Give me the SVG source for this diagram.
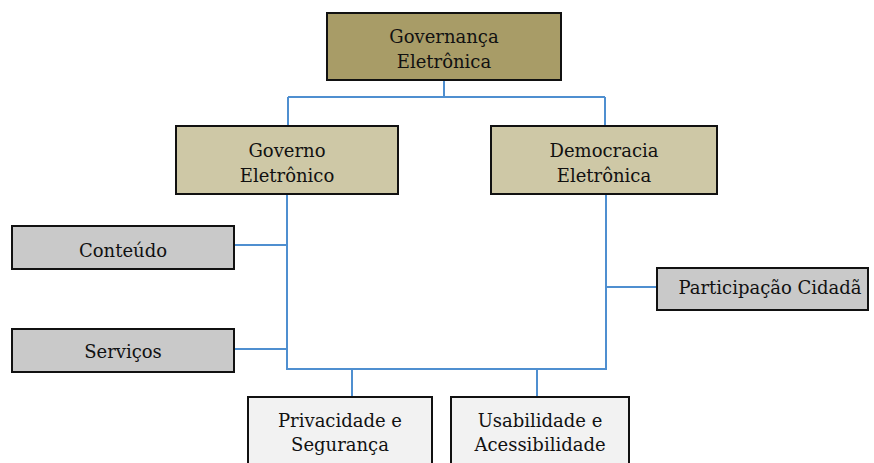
<svg xmlns="http://www.w3.org/2000/svg" width="874" height="463" viewBox="0 0 874 463">
<style>
.box{stroke:#111;stroke-width:2}
.l1{fill:#A89C67}
.l2{fill:#CEC8A6}
.g{fill:#C9C9C9}
.w{fill:#F2F2F2}
text{font-family:"DejaVu Serif","Liberation Serif",serif;font-size:18px;fill:#111;text-anchor:middle}
.c{fill:none;stroke:#4F8FD0;stroke-width:2}
</style>
<rect width="874" height="463" fill="#fff"/>
<g id="connectors">
<path class="c" d="M444 81V97M288 97H605M288 97V126M605 97V126"/>
<path class="c" d="M287 194V369H606V194"/>
<path class="c" d="M234 245H287M234 349H287M606 287H657"/>
<path class="c" d="M352 369V397M537 369V397"/>
</g>
<g id="governanca"><rect class="box l1" x="327" y="13" width="234" height="67"/><text x="444" y="43">Governança</text><text x="444" y="68">Eletrônica</text></g>
<g id="governo"><rect class="box l2" x="176" y="126" width="222" height="68"/><text x="287" y="157">Governo</text><text x="287" y="182">Eletrônico</text></g>
<g id="democracia"><rect class="box l2" x="491" y="126" width="226" height="68"/><text x="604" y="157">Democracia</text><text x="604" y="182">Eletrônica</text></g>
<g id="conteudo"><rect class="box g" x="12" y="226" width="222" height="43"/><text x="123" y="257">Conteúdo</text></g>
<g id="servicos"><rect class="box g" x="12" y="329" width="222" height="43"/><text x="123" y="358">Serviços</text></g>
<g id="participacao"><rect class="box g" x="657" y="268" width="211" height="42"/><text x="770" y="294">Participação Cidadã</text></g>
<g id="privacidade"><rect class="box w" x="248" y="397" width="184" height="70"/><text x="340" y="427">Privacidade e</text><text x="340" y="451">Segurança</text></g>
<g id="usabilidade"><rect class="box w" x="451" y="397" width="178" height="70"/><text x="540" y="427">Usabilidade e</text><text x="540" y="451">Acessibilidade</text></g>
</svg>
